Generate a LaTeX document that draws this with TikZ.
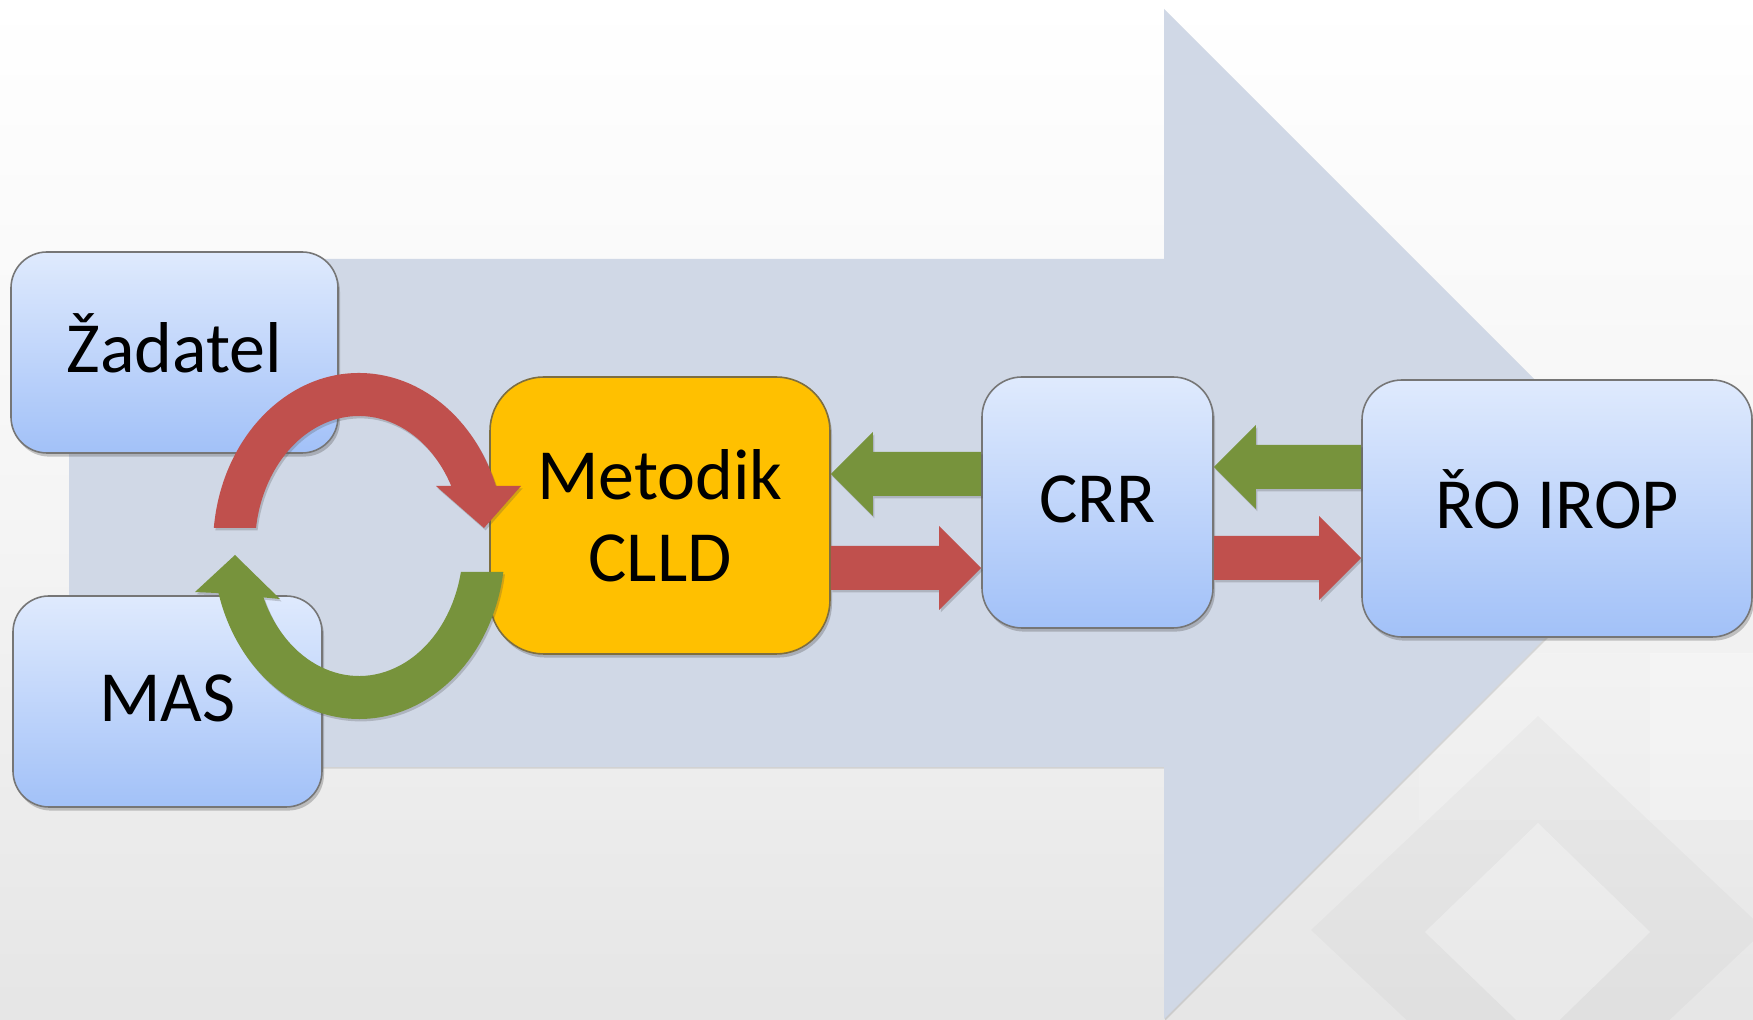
\documentclass[tikz,border=0pt]{standalone}
\usepackage{fontspec}
\setmainfont{Carlito}
\usetikzlibrary{calc,shadows}
\definecolor{bigarrow}{RGB}{208,216,230}
\definecolor{boxtop}{RGB}{223,234,253}
\definecolor{boxbot}{RGB}{162,193,248}
\definecolor{boxline}{RGB}{118,118,118}
\definecolor{metfill}{RGB}{255,192,0}
\definecolor{metline}{RGB}{125,110,65}
\definecolor{arrred}{RGB}{192,80,77}
\definecolor{arrgreen}{RGB}{119,147,60}
\newcommand\fatarrow[3]{%
  \fill[#1,softshadow] let \p1=(#2), \p2=(#3), \n1={sign(\x2-\x1)} in
    (\x1,\y1+11pt) -- ({\x2-\n1*21pt},\y1+11pt) -- ({\x2-\n1*21pt},\y1+21pt)
    -- (\x2,\y1) -- ({\x2-\n1*21pt},\y1-21pt) -- ({\x2-\n1*21pt},\y1-11pt)
    -- (\x1,\y1-11pt) -- cycle;}
\begin{document}
\begin{tikzpicture}[x=0.5pt,y=-0.5pt,
  softshadow/.style={drop shadow={shadow xshift=0.8pt,shadow yshift=-1.2pt,opacity=0.25,fill=black!70}},
  boxshadow/.style={drop shadow={shadow xshift=1pt,shadow yshift=-1.8pt,opacity=0.3,fill=black!70}},
  bluebox/.style={draw=boxline,line width=0.8pt,top color=boxtop,bottom color=boxbot,
    rounded corners=18pt,inner sep=0pt,align=center,boxshadow,
    font=\fontsize{36}{41}\selectfont,text height=26pt,text depth=6pt},
  metbox/.style={draw=metline,line width=0.8pt,fill=metfill,rounded corners=27pt,
    inner sep=0pt,align=center,boxshadow,font=\fontsize{36}{41}\selectfont}]
\useasboundingbox (0,0) rectangle (1753,1020);
% background
\shade[top color=white,bottom color=black!10,middle color=black!4] (0,0) rectangle (1753,1020);
\fill[white,opacity=0.3] (1650,653) rectangle (1753,820);
\fill[white,opacity=0.15] (1419,653) rectangle (1650,820);
\fill[black,opacity=0.025] (1311,930) -- (1538,716) -- (1765,930) -- (1538,1144) -- cycle;
\fill[white,opacity=0.3] (1425,932) -- (1538,823) -- (1650,932) -- (1538,1041) -- cycle;
% big arrow
\fill[bigarrow,drop shadow={shadow xshift=0.6pt,shadow yshift=-0.8pt,opacity=0.2,fill=black!60}]
  (69,259) -- (1164,259) -- (1164,9) -- (1669,514) -- (1164,1019) -- (1164,767) -- (69,767) -- cycle;
% boxes
\node[bluebox,minimum width=163.5pt,minimum height=100.5pt] (zad) at (174.5,352.5) {Žadatel};
\node[bluebox,minimum width=154.5pt,minimum height=105.5pt] (mas) at (167.5,701.5) {MAS};
\node[metbox,minimum width=170pt,minimum height=138.5pt] (met) at (660,515.5) {Metodik\\CLLD};
\node[bluebox,rounded corners=20pt,minimum width=115.5pt,minimum height=125.5pt] (crr) at (1097.5,502.5) {CRR};
\node[bluebox,rounded corners=20pt,minimum width=195pt,minimum height=128.5pt] (ro) at (1557,508.5) {ŘO IROP};
% cycle arrows between Žadatel / MAS and Metodik
\coordinate (cyc) at (359,546);
\fill[arrred,softshadow] ($(cyc)+(186:146 and 173)$)
  arc[start angle=186,end angle=339.7,x radius=146,y radius=173]
  -- (521,486) -- (484,528) -- (436,486)
  -- ($(cyc)+(332.5:104 and 130)$)
  arc[start angle=332.5,end angle=188,x radius=104,y radius=130] -- cycle;
\fill[arrgreen,softshadow] ($(cyc)+(8.6:146 and 173)$)
  arc[start angle=8.6,end angle=164.2,x radius=146,y radius=173]
  -- (195,592) -- (235,555) -- (280,599)
  -- ($(cyc)+(156.7:104 and 130)$)
  arc[start angle=156.7,end angle=11.5,x radius=104,y radius=130] -- cycle;
% straight arrows
\coordinate (g1a) at ([yshift=14.25pt]crr.west);
\coordinate (g1b) at (met.east |- g1a);
\coordinate (r1b) at ([yshift=-32.75pt]crr.west);
\coordinate (r1a) at (met.east |- r1b);
\coordinate (g2a) at ([yshift=20.75pt]ro.west);
\coordinate (g2b) at (crr.east |- g2a);
\coordinate (r2b) at ([yshift=-24.75pt]ro.west);
\coordinate (r2a) at (crr.east |- r2b);
\fatarrow{arrgreen}{g1a}{g1b}
\fatarrow{arrred}{r1a}{r1b}
\fatarrow{arrgreen}{g2a}{g2b}
\fatarrow{arrred}{r2a}{r2b}
\end{tikzpicture}
\end{document}
